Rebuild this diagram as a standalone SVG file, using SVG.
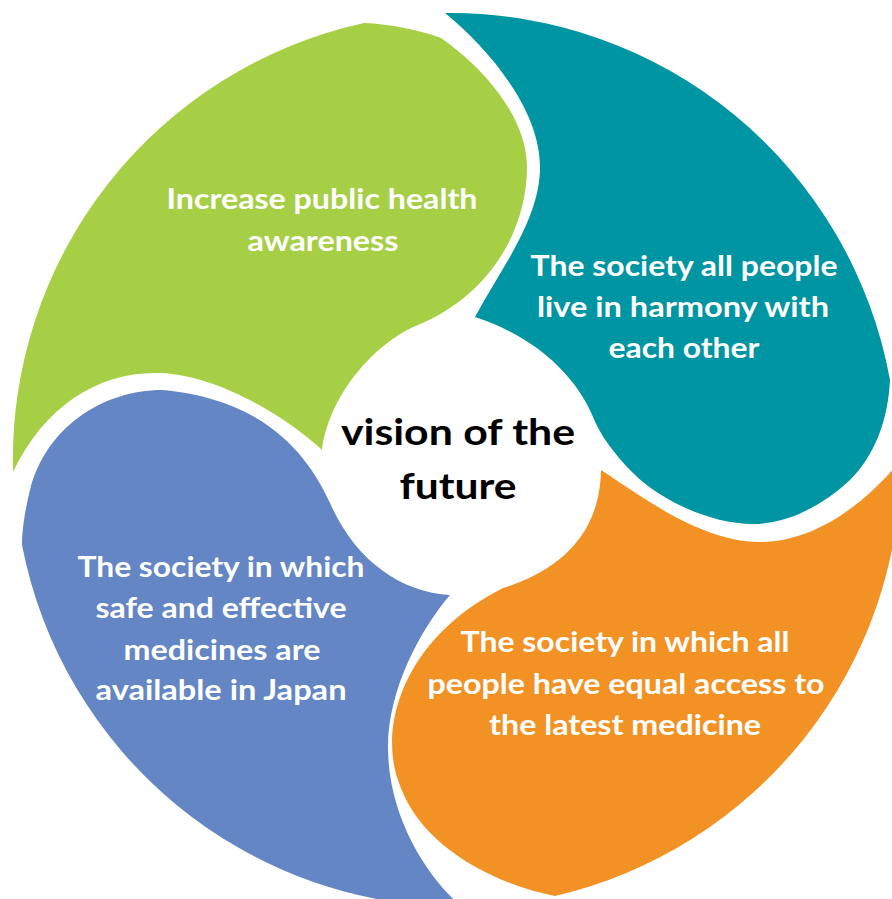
<svg xmlns="http://www.w3.org/2000/svg" width="892" height="899" viewBox="0 0 892 899">
  <style>
    .petal-text { font-family: Lato, "Open Sans", "Liberation Sans", sans-serif; font-weight: bold; font-size: 28px; fill: #FFFFFF; text-anchor: middle; }
    .center-text { font-family: Lato, "Open Sans", "Liberation Sans", sans-serif; font-weight: bold; font-size: 37px; fill: #000000; text-anchor: middle; }
    .green { fill: #A6CF46; }
    .teal { fill: #0095A2; }
    .orange { fill: #F39224; }
    .blue { fill: #6486C4; }
  </style>
  <rect width="892" height="899" fill="#FFFFFF"/>
  <g id="connectors"></g>

  <g id="node-green">
    <path class="green" d="M 13 472 A 447 447 0 0 1 364 23 C 390 24, 420 30, 441 38 C 480 65, 527 115, 527 167 C 527 230, 490 295, 418 325 C 380 340, 330 390, 322 450 C 290 420, 220 375, 160 373 C 100 371, 45 405, 13 472 Z"/>
    <text class="petal-text" x="322" y="209" textLength="311" lengthAdjust="spacingAndGlyphs">Increase public health</text>
    <text class="petal-text" x="323" y="251" textLength="151" lengthAdjust="spacingAndGlyphs">awareness</text>
  </g>

  <g id="node-teal">
    <path class="teal" d="M 445 13 A 447 447 0 0 1 890 380 C 888 420, 875 455, 850 480 C 820 508, 785 524, 753 524 C 710 524, 660 500, 633 473 C 615 455, 600 435, 593 417 C 580 385, 545 340, 475 317 C 500 270, 540 220, 540 167 C 540 110, 490 50, 445 13 Z"/>
    <text class="petal-text" x="684" y="276" textLength="307" lengthAdjust="spacingAndGlyphs">The society all people</text>
    <text class="petal-text" x="683" y="317" textLength="292" lengthAdjust="spacingAndGlyphs">live in harmony with</text>
    <text class="petal-text" x="684" y="358" textLength="151" lengthAdjust="spacingAndGlyphs">each other</text>
  </g>

  <g id="node-orange">
    <path class="orange" d="M 601 470 C 640 495, 700 542, 760 542 C 810 542, 860 510, 901 460 A 447 447 0 0 1 555 896 C 500 885, 420 850, 398 780 C 380 730, 400 640, 503 588 C 545 575, 600 545, 601 470 Z"/>
    <text class="petal-text" x="625" y="652" textLength="329" lengthAdjust="spacingAndGlyphs">The society in which all</text>
    <text class="petal-text" x="626" y="694" textLength="397" lengthAdjust="spacingAndGlyphs">people have equal access to</text>
    <text class="petal-text" x="625" y="735" textLength="272" lengthAdjust="spacingAndGlyphs">the latest medicine</text>
  </g>

  <g id="node-blue">
    <path class="blue" d="M 163 390 C 100 390, 45 430, 30 490 C 25 510, 22 530, 22 545 A 447 447 0 0 0 462 907 C 430 880, 388 820, 388 747 C 388 690, 420 630, 450 595 C 400 592, 355 560, 330 503 C 310 460, 270 400, 163 390 Z"/>
    <text class="petal-text" x="221" y="577" textLength="287" lengthAdjust="spacingAndGlyphs">The society in which</text>
    <text class="petal-text" x="221" y="618" textLength="251" lengthAdjust="spacingAndGlyphs">safe and effective</text>
    <text class="petal-text" x="222" y="660" textLength="197" lengthAdjust="spacingAndGlyphs">medicines are</text>
    <text class="petal-text" x="221" y="700" textLength="251" lengthAdjust="spacingAndGlyphs">available in Japan</text>
  </g>

  <g id="node-center">
    <text class="center-text" x="458" y="445" textLength="234" lengthAdjust="spacingAndGlyphs">vision of the</text>
    <text class="center-text" x="458" y="499" textLength="117" lengthAdjust="spacingAndGlyphs">future</text>
  </g>
</svg>
